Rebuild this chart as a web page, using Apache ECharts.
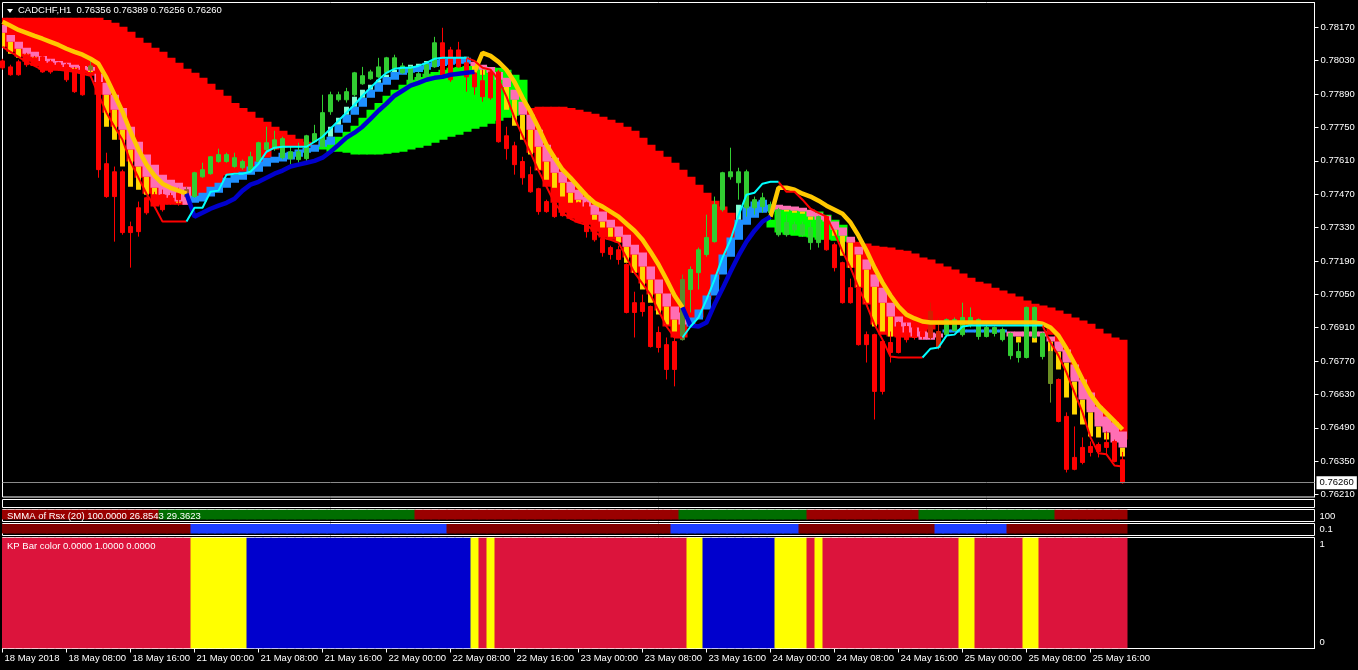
<!DOCTYPE html>
<html>
<head>
<meta charset="utf-8">
<title>CADCHF,H1</title>
<script src="https://cdn.jsdelivr.net/npm/echarts@6.0.0/dist/echarts.min.js"></script>
<style>
html,body{margin:0;padding:0;background:#000;overflow:hidden;}
#chart{width:1358px;height:670px;}
</style>
</head>
<body>
<div id="chart"></div>
<script>
// ================= DATA =================
const symbol = 'CADCHF,H1';
const tickLabels = ['18 May 2018','18 May 08:00','18 May 16:00','21 May 00:00','21 May 08:00','21 May 16:00',
  '22 May 00:00','22 May 08:00','22 May 16:00','23 May 00:00','23 May 08:00','23 May 16:00',
  '24 May 00:00','24 May 08:00','24 May 16:00','25 May 00:00','25 May 08:00','25 May 16:00'];
const priceTicks = [0.76210,0.76350,0.76490,0.76630,0.76770,0.76910,0.77050,0.77190,0.77330,0.77470,0.77610,0.77750,0.77890,0.78030,0.78170];
const smmaLegend = 'SMMA of Rsx (20) 100.0000 26.8543 29.3623';
const kpLegend = 'KP Bar color 0.0000 1.0000 0.0000';

// hourly candles: [open, close, low, high]
const ohlc = [
[0.78029,0.78000,0.77992,0.78038],[0.78004,0.77971,0.77967,0.78013],[0.78025,0.77971,0.77967,0.78034],[0.78055,0.78013,0.78004,0.78063],[0.78042,0.78013,0.78008,0.78050],
[0.78046,0.77983,0.77979,0.78055],[0.78025,0.77983,0.77975,0.78034],[0.78021,0.77992,0.77988,0.78025],[0.78013,0.77950,0.77941,0.78021],[0.77992,0.77900,0.77895,0.78004],
[0.78021,0.77887,0.77883,0.78034],[0.77992,0.78008,0.77979,0.78038],[0.78021,0.77573,0.77539,0.78025],[0.77598,0.77460,0.77455,0.77644],[0.77564,0.77460,0.77271,0.77586],
[0.77564,0.77309,0.77300,0.77573],[0.77334,0.77309,0.77162,0.77355],[0.77413,0.77313,0.77292,0.77439],[0.77455,0.77392,0.77384,0.77460],[0.77468,0.77434,0.77430,0.77480],
[0.77468,0.77405,0.77397,0.77489],[0.77464,0.77439,0.77426,0.77476],[0.77476,0.77447,0.77422,0.77497],[0.77460,0.77489,0.77455,0.77501],[0.77460,0.77560,0.77455,0.77564],
[0.77543,0.77573,0.77539,0.77602],[0.77556,0.77627,0.77552,0.77630],[0.77607,0.77636,0.77602,0.77661],[0.77607,0.77636,0.77602,0.77644],[0.77586,0.77623,0.77581,0.77644],
[0.77581,0.77607,0.77573,0.77615],[0.77569,0.77627,0.77564,0.77648],[0.77607,0.77686,0.77602,0.77690],[0.77657,0.77686,0.77648,0.77753],[0.77661,0.77698,0.77652,0.77736],
[0.77623,0.77703,0.77615,0.77711],[0.77619,0.77648,0.77594,0.77669],[0.77615,0.77648,0.77602,0.77686],[0.77619,0.77715,0.77602,0.77719],[0.77690,0.77724,0.77686,0.77761],
[0.77669,0.77812,0.77665,0.77887],[0.77816,0.77887,0.77803,0.77900],[0.77866,0.77887,0.77858,0.77900],[0.77866,0.77900,0.77854,0.77916],[0.77887,0.77979,0.77879,0.77983],
[0.77933,0.77967,0.77929,0.78004],[0.77954,0.77983,0.77950,0.77992],[0.77962,0.78004,0.77958,0.78042],[0.77979,0.78042,0.77979,0.78046],[0.77996,0.78042,0.77992,0.78055],
[0.77979,0.78008,0.77975,0.78021],[0.77937,0.78004,0.77933,0.78008],[0.77937,0.77975,0.77929,0.77983],[0.77962,0.78013,0.77958,0.78025],[0.78004,0.78105,0.78000,0.78130],
[0.78105,0.77962,0.77958,0.78168],[0.78075,0.77950,0.77941,0.78088],[0.78075,0.78004,0.78000,0.78109],[0.78021,0.77962,0.77900,0.78042],[0.77979,0.77920,0.77887,0.77992],
[0.77946,0.77879,0.77858,0.77992],[0.77983,0.77874,0.77866,0.77992],[0.77983,0.77690,0.77686,0.77992],[0.77715,0.77661,0.77615,0.77753],[0.77673,0.77594,0.77552,0.77690],
[0.77607,0.77539,0.77510,0.77627],[0.77552,0.77480,0.77476,0.77586],[0.77493,0.77397,0.77384,0.77497],[0.77439,0.77397,0.77392,0.77447],[0.77434,0.77376,0.77371,0.77460],
[0.77434,0.77380,0.77376,0.77439],[0.77397,0.77371,0.77363,0.77405],[0.77434,0.77376,0.77371,0.77439],[0.77434,0.77313,0.77288,0.77439],[0.77330,0.77279,0.77271,0.77342],
[0.77284,0.77225,0.77208,0.77292],[0.77246,0.77217,0.77196,0.77254],[0.77237,0.77196,0.77175,0.77254],[0.77175,0.76974,0.76970,0.77180],[0.77015,0.76974,0.76869,0.77061],
[0.77015,0.76978,0.76957,0.77049],[0.76999,0.76831,0.76827,0.77003],[0.76890,0.76827,0.76806,0.76915],[0.76839,0.76735,0.76693,0.76869],[0.76852,0.76735,0.76664,0.76873],
[0.76860,0.77112,0.76856,0.77133],[0.77070,0.77154,0.76974,0.77167],[0.77141,0.77237,0.77070,0.77246],[0.77217,0.77288,0.77208,0.77384],[0.77271,0.77426,0.77267,0.77460],
[0.77405,0.77560,0.77397,0.77564],[0.77543,0.77564,0.77531,0.77665],[0.77518,0.77564,0.77447,0.77581],[0.77413,0.77564,0.77376,0.77573],[0.77413,0.77447,0.77384,0.77460],
[0.77418,0.77455,0.77392,0.77476],[0.77392,0.77426,0.77363,0.77439],[0.77300,0.77405,0.77292,0.77413],[0.77300,0.77351,0.77292,0.77384],[0.77321,0.77342,0.77309,0.77355],
[0.77300,0.77342,0.77292,0.77355],[0.77267,0.77330,0.77237,0.77355],[0.77267,0.77376,0.77246,0.77380],[0.77376,0.77237,0.77233,0.77380],[0.77258,0.77162,0.77146,0.77267],
[0.77183,0.77015,0.77011,0.77187],[0.77078,0.77015,0.77011,0.77116],[0.77078,0.76839,0.76835,0.77082],[0.76881,0.76839,0.76764,0.76894],[0.76881,0.76643,0.76525,0.76885],
[0.76852,0.76643,0.76630,0.76860],[0.76848,0.76806,0.76764,0.76894],[0.76932,0.76806,0.76802,0.76936],[0.76915,0.76860,0.76848,0.76932],[0.76911,0.76869,0.76860,0.76923],
[0.76894,0.76873,0.76860,0.76902],[0.76978,0.76869,0.76860,0.77015],[0.76894,0.76827,0.76819,0.76949],[0.76881,0.76944,0.76873,0.76949],[0.76898,0.76944,0.76894,0.76953],
[0.76881,0.76953,0.76873,0.77015],[0.76923,0.76953,0.76911,0.76995],[0.76873,0.76944,0.76860,0.76949],[0.76873,0.76911,0.76869,0.76923],[0.76886,0.76911,0.76873,0.76915],
[0.76860,0.76902,0.76852,0.76911],[0.76793,0.76886,0.76777,0.76890],[0.76785,0.76810,0.76764,0.76848],[0.76785,0.76995,0.76781,0.76999],[0.76869,0.76995,0.76865,0.76999],
[0.76789,0.76886,0.76777,0.76890],[0.76810,0.76676,0.76596,0.76860],[0.76693,0.76517,0.76513,0.76697],[0.76538,0.76316,0.76303,0.76555],[0.76366,0.76316,0.76312,0.76496],
[0.76408,0.76345,0.76337,0.76450],[0.76412,0.76387,0.76370,0.76433],[0.76420,0.76391,0.76366,0.76429],[0.76429,0.76408,0.76379,0.76475],[0.76433,0.76349,0.76345,0.76441],
[0.76356,0.76260,0.76256,0.76389]
];

// thick moving average (yellow when bearish, blue when bullish)
const maLine = [
0.78193,0.78176,0.78159,0.78147,0.78134,0.78122,0.78109,0.78096,0.78080,0.78067,
0.78055,0.78038,0.78017,0.77958,0.77887,0.77816,0.77732,0.77657,0.77594,0.77548,
0.77514,0.77497,0.77485,0.77472,0.77376,0.77392,0.77409,0.77422,0.77434,0.77451,
0.77485,0.77510,0.77522,0.77539,0.77556,0.77569,0.77586,0.77594,0.77602,0.77610,
0.77623,0.77648,0.77677,0.77707,0.77728,0.77753,0.77786,0.77820,0.77850,0.77883,
0.77904,0.77925,0.77937,0.77950,0.77958,0.77962,0.77971,0.77975,0.77979,0.77983,
0.78063,0.78050,0.78025,0.77992,0.77941,0.77874,0.77816,0.77749,0.77677,0.77623,
0.77573,0.77539,0.77501,0.77464,0.77434,0.77418,0.77397,0.77376,0.77346,0.77317,
0.77279,0.77229,0.77175,0.77112,0.77045,0.76995,0.76919,0.76915,0.76932,0.77007,
0.77074,0.77145,0.77212,0.77271,0.77317,0.77355,0.77376,0.77497,0.77497,0.77489,
0.77472,0.77460,0.77443,0.77422,0.77405,0.77388,0.77351,0.77296,0.77233,0.77162,
0.77099,0.77045,0.76999,0.76965,0.76949,0.76936,0.76932,0.76932,0.76932,0.76932,
0.76932,0.76932,0.76932,0.76932,0.76932,0.76932,0.76932,0.76932,0.76932,0.76932,
0.76927,0.76911,0.76877,0.76822,0.76760,0.76693,0.76630,0.76584,0.76551,0.76517,
0.76483];
const maRuns = [['Y',24],['B',36],['Y',26],['B',11],['Y',44]];

// thin trailing line (red bearish / cyan bullish)
const trail = [
0.78088,0.78067,0.78046,0.78025,0.78008,0.77992,0.77992,0.77992,0.77988,0.77983,
0.77975,0.77967,0.77887,0.77812,0.77753,0.77698,0.77607,0.77539,0.77472,0.77418,
0.77355,0.77355,0.77355,0.77355,0.77413,0.77413,0.77480,0.77485,0.77552,0.77556,
0.77556,0.77564,0.77598,0.77648,0.77665,0.77669,0.77669,0.77669,0.77669,0.77690,
0.77711,0.77745,0.77778,0.77812,0.77845,0.77883,0.77916,0.77950,0.77979,0.77996,
0.78000,0.78000,0.78008,0.78021,0.78038,0.78042,0.78042,0.78042,0.78042,0.78029,
0.78000,0.77992,0.77950,0.77879,0.77791,0.77715,0.77644,0.77569,0.77501,0.77434,
0.77392,0.77367,0.77351,0.77342,0.77313,0.77288,0.77279,0.77267,0.77204,0.77141,
0.77095,0.77049,0.76982,0.76915,0.76869,0.76869,0.76915,0.76953,0.77028,0.77112,
0.77204,0.77279,0.77380,0.77468,0.77476,0.77514,0.77522,0.77522,0.77480,0.77480,
0.77447,0.77409,0.77392,0.77376,0.77309,0.77229,0.77162,0.77078,0.77007,0.76923,
0.76860,0.76789,0.76785,0.76785,0.76785,0.76785,0.76822,0.76827,0.76877,0.76881,
0.76915,0.76919,0.76919,0.76919,0.76919,0.76919,0.76919,0.76919,0.76919,0.76919,
0.76919,0.76848,0.76793,0.76722,0.76638,0.76555,0.76450,0.76383,0.76379,0.76332,
0.76328];
const trailRuns = [['R',24],['C',35],['R',27],['C',12],['R',18],['C',15],['R',10]];

// cloud: slow and fast edge (red where slow > fast, lime where fast > slow)
const cloudSlow = [
0.78210,0.78210,0.78210,0.78210,0.78210,0.78210,0.78210,0.78210,0.78210,0.78210,
0.78210,0.78210,0.78210,0.78201,0.78189,0.78172,0.78151,0.78126,0.78105,0.78084,
0.78067,0.78042,0.78021,0.77996,0.77979,0.77958,0.77933,0.77908,0.77883,0.77853,
0.77832,0.77816,0.77791,0.77774,0.77753,0.77736,0.77719,0.77703,0.77690,0.77677,
0.77657,0.77648,0.77648,0.77644,0.77636,0.77636,0.77636,0.77636,0.77640,0.77644,
0.77648,0.77657,0.77665,0.77673,0.77686,0.77698,0.77711,0.77719,0.77732,0.77745,
0.77753,0.77765,0.77778,0.77791,0.77799,0.77807,0.77832,0.77837,0.77837,0.77837,
0.77837,0.77832,0.77824,0.77816,0.77807,0.77795,0.77782,0.77770,0.77753,0.77736,
0.77707,0.77677,0.77652,0.77627,0.77602,0.77573,0.77543,0.77510,0.77476,0.77443,
0.77418,0.77392,0.77363,null,null,null,0.77330,0.77309,0.77300,0.77296,
0.77292,0.77288,0.77279,0.77279,0.77275,0.77271,0.77279,0.77271,0.77263,0.77254,
0.77250,0.77246,0.77237,0.77233,0.77221,0.77204,0.77196,0.77179,0.77167,0.77154,
0.77137,0.77120,0.77103,0.77095,0.77078,0.77066,0.77053,0.77041,0.77024,0.77011,
0.77003,0.76995,0.76982,0.76969,0.76953,0.76940,0.76927,0.76906,0.76886,0.76869,
0.76860];
const cloudFast = [
0.78088,0.78067,0.78046,0.78025,0.78008,0.77992,0.77992,0.77992,0.77988,0.77983,
0.77975,0.77967,0.77887,0.77812,0.77753,0.77698,0.77607,0.77539,0.77472,0.77418,
0.77426,0.77426,0.77426,0.77426,0.77447,0.77464,0.77489,0.77506,0.77548,0.77556,
0.77564,0.77573,0.77594,0.77623,0.77657,0.77665,0.77669,0.77669,0.77669,0.77673,
0.77690,0.77698,0.77711,0.77732,0.77757,0.77791,0.77824,0.77853,0.77883,0.77908,
0.77929,0.77950,0.77962,0.77975,0.77983,0.77992,0.78000,0.78004,0.78008,0.78008,
0.78008,0.78004,0.78000,0.77992,0.77971,0.77950,0.77644,0.77569,0.77501,0.77434,
0.77392,0.77367,0.77351,0.77342,0.77313,0.77288,0.77279,0.77267,0.77204,0.77141,
0.77095,0.77049,0.76982,0.76915,0.76869,0.76869,0.76915,0.76953,0.77028,0.77112,
0.77204,0.77279,0.77355,null,null,null,0.77363,0.77405,0.77409,0.77405,
0.77405,0.77401,0.77397,0.77384,0.77363,0.77342,0.77162,0.77078,0.77007,0.76923,
0.76881,0.76873,0.76869,0.76869,0.76869,0.76877,0.76902,0.76923,0.76923,0.76923,
0.76923,0.76923,0.76923,0.76923,0.76923,0.76923,0.76923,0.76923,0.76923,0.76923,
0.76923,0.76881,0.76839,0.76777,0.76701,0.76630,0.76567,0.76525,0.76492,0.76462,
0.76441];

// smoothed bar overlay: wide block base->mid, narrow bar mid->tip
const haBase = [
0.78180,0.78138,0.78109,0.78084,0.78067,0.78050,0.78038,0.78029,0.78021,0.78013,
0.78008,0.78004,0.77975,0.77937,0.77887,0.77832,0.77753,0.77690,0.77636,0.77594,
0.77552,0.77531,0.77518,0.77501,0.77434,0.77439,0.77460,0.77476,0.77497,0.77518,
0.77531,0.77552,0.77564,0.77586,0.77602,0.77607,0.77615,0.77627,0.77644,0.77648,
0.77669,0.77677,0.77728,0.77770,0.77803,0.77837,0.77874,0.77900,0.77929,0.77950,
0.77971,0.77979,0.77983,0.77992,0.78004,0.78008,0.78013,0.78017,0.78017,0.78025,
0.78013,0.78004,0.77983,0.77958,0.77908,0.77858,0.77803,0.77740,0.77677,0.77623,
0.77564,0.77522,0.77489,0.77460,0.77426,0.77397,0.77363,0.77334,0.77300,0.77258,
0.77225,0.77167,0.77112,0.77053,0.76999,0.76974,0.76915,0.76944,0.76986,0.77045,
0.77133,0.77208,0.77279,0.77342,0.77371,0.77392,0.77397,0.77426,0.77422,0.77418,
0.77413,0.77405,0.77392,0.77380,0.77355,0.77330,0.77292,0.77250,0.77196,0.77133,
0.77078,0.77015,0.76957,0.76932,0.76911,0.76894,0.76890,0.76886,0.76890,0.76890,
0.76890,0.76890,0.76890,0.76890,0.76890,0.76890,0.76894,0.76894,0.76894,0.76894,
0.76894,0.76873,0.76852,0.76819,0.76756,0.76693,0.76638,0.76580,0.76538,0.76513,
0.76475];
const haMid = [
0.78147,0.78109,0.78080,0.78059,0.78046,0.78029,0.78021,0.78013,0.78004,0.78000,
0.77992,0.77988,0.77941,0.77887,0.77824,0.77740,0.77657,0.77586,0.77543,0.77497,
0.77468,0.77455,0.77439,0.77426,0.77464,0.77476,0.77501,0.77518,0.77539,0.77552,
0.77564,0.77586,0.77607,0.77623,0.77627,0.77644,0.77648,0.77657,0.77665,0.77677,
0.77698,0.77711,0.77761,0.77803,0.77837,0.77874,0.77908,0.77937,0.77962,0.77983,
0.78000,0.78004,0.78008,0.78021,0.78034,0.78038,0.78042,0.78042,0.78042,0.78008,
0.77992,0.77979,0.77950,0.77920,0.77866,0.77803,0.77740,0.77669,0.77607,0.77560,
0.77518,0.77476,0.77447,0.77418,0.77384,0.77355,0.77330,0.77292,0.77250,0.77217,
0.77167,0.77112,0.77053,0.76999,0.76944,0.76923,0.76953,0.76986,0.77045,0.77133,
0.77217,0.77288,0.77363,0.77418,0.77439,0.77447,0.77426,0.77405,0.77405,0.77401,
0.77397,0.77376,0.77363,0.77355,0.77321,0.77296,0.77267,0.77217,0.77154,0.77082,
0.77015,0.76957,0.76915,0.76890,0.76873,0.76860,0.76860,0.76869,0.76902,0.76902,
0.76902,0.76902,0.76902,0.76902,0.76902,0.76902,0.76873,0.76873,0.76873,0.76873,
0.76873,0.76852,0.76810,0.76764,0.76684,0.76609,0.76555,0.76496,0.76471,0.76429,
0.76408];
const haTip = [
0.78088,0.78059,0.78042,0.78034,0.78025,0.78013,0.78008,0.78004,0.78000,0.77996,
0.77988,0.77983,0.77916,0.77753,0.77698,0.77586,0.77501,0.77489,0.77468,0.77460,
0.77447,0.77443,0.77434,0.77426,0.77464,0.77476,0.77501,0.77518,0.77539,0.77552,
0.77564,0.77586,0.77607,0.77623,0.77627,0.77644,0.77648,0.77657,0.77665,0.77677,
0.77707,0.77753,0.77791,0.77837,0.77879,0.77908,0.77929,0.77950,0.77971,0.77992,
0.78008,0.78013,0.78017,0.78029,0.78042,0.78046,0.78046,0.78046,0.78046,0.77992,
0.77971,0.77941,0.77887,0.77824,0.77757,0.77698,0.77636,0.77573,0.77531,0.77497,
0.77460,0.77434,0.77418,0.77392,0.77363,0.77330,0.77292,0.77267,0.77183,0.77141,
0.77070,0.77015,0.76965,0.76923,0.76894,0.76902,0.76953,0.76986,0.77045,0.77133,
0.77217,0.77288,0.77426,0.77447,0.77439,0.77447,0.77426,0.77397,0.77397,0.77392,
0.77388,0.77363,0.77346,0.77330,0.77296,0.77212,0.77162,0.77082,0.77015,0.76915,
0.76894,0.76873,0.76869,0.76877,0.76869,0.76860,0.76860,0.76869,0.76902,0.76902,
0.76902,0.76902,0.76902,0.76902,0.76902,0.76902,0.76848,0.76848,0.76848,0.76848,
0.76848,0.76806,0.76735,0.76617,0.76546,0.76504,0.76454,0.76450,0.76441,0.76412,
0.76370];

// indicator window states, as runs of bars
const smmaRuns = [['D',20],['U',32],['D',33],['U',16],['D',14],['U',17],['D',9]];
const rsxRuns  = [['D',24],['U',32],['D',28],['U',16],['D',17],['U',9],['D',15]];
const kpRuns   = [['R',24],['Y',7],['B',28],['Y',1],['R',1],['Y',1],['R',24],['Y',2],['B',9],['Y',4],['R',1],['Y',1],['R',17],['Y',2],['R',6],['Y',2],['R',11]];

// ================= STYLE =================
const FONT = "'Liberation Sans', Arial, sans-serif";
const FS = 9.5;
const C = {
  frame:'#ffffff', text:'#ffffff',
  bull:'#32CD32', bear:'#FF0000',
  cloudBear:'#FF0000', cloudBull:'#00FF00',
  haBearWide:'#FF6EB4', haBearNarrow:'#FFD700',
  haBullWide:'#1E90FF', haBullNarrow:'#7FFFD4',
  ma:{Y:'#FFC800', B:'#0000CD'},
  trail:{R:'#FF0000', C:'#00FFFF'},
  price:'#8a8a8a',
  smma:{U:'#006E00', D:'#9A0000'},
  rsx:{U:'#1C3CFF', D:'#800000'},
  kp:{R:'#DC143C', Y:'#FFFF00', B:'#0000CD'}
};
const candleTint = {11:'#7E7E2A', 23:'#A0522D', 85:'#5C8A2E', 116:'#D22000', 117:'#D22000', 131:'#6B8E23'};
const futureSlots = 24;

// ================= BUILD =================
function expand(runs){ const out=[]; runs.forEach(([s,n])=>{ for(let k=0;k<n;k++) out.push(s); }); return out; }
const maState = expand(maRuns), trailState = expand(trailRuns);
const smmaState = expand(smmaRuns), rsxState = expand(rsxRuns), kpState = expand(kpRuns);

const nBars = ohlc.length;
const categories = [];
for (let i = 0; i < nBars + futureSlots; i++) {
  categories.push(i % 8 === 0 && i / 8 < tickLabels.length ? tickLabels[i / 8] : '');
}
const tickShown = (idx) => idx % 8 === 0 && idx / 8 < tickLabels.length;

function splitByState(values, states, key){
  return values.map((v, i) => (states[i] === key || states[i + 1] === key) ? v : null);
}

const cloudData = [];
for (let i = 0; i < nBars; i++) if (cloudSlow[i] != null && cloudFast[i] != null) cloudData.push([i, cloudSlow[i], cloudFast[i]]);
const haData = haBase.map((b, i) => [i, b, haMid[i], haTip[i]]);
const candleData = ohlc.map((d, i) => candleTint[i]
  ? {value:d, itemStyle:{color:candleTint[i], color0:candleTint[i], borderColor:candleTint[i], borderColor0:candleTint[i]}}
  : d);
const last = ohlc[nBars - 1];
const f5 = v => v.toFixed(5);
const header = symbol + '  ' + f5(last[0]) + ' ' + f5(last[3]) + ' ' + f5(last[2]) + ' ' + f5(last[1]);

function cloudItem(params, api){
  const x = api.value(0), s = api.value(1), f = api.value(2);
  const top = api.coord([x, Math.max(s, f)]);
  const bot = api.coord([x, Math.min(s, f)]);
  const w = api.size([1, 0])[0];
  return {type:'rect', shape:{x:top[0] - w/2, y:top[1], width:w + 1, height:Math.max(bot[1] - top[1], 0.5)},
          style:{fill: s > f ? C.cloudBear : C.cloudBull}};
}
function haItem(params, api){
  const x = api.value(0), b = api.value(1), m = api.value(2), t = api.value(3);
  const bear = b >= m;
  const w = api.size([1, 0])[0];
  const pb = api.coord([x, b]), pm = api.coord([x, m]), pt = api.coord([x, t]);
  const nw = w * 0.62;
  return {type:'group', children:[
    {type:'rect', shape:{x:pm[0] - nw/2, y:Math.min(pm[1], pt[1]), width:nw, height:Math.abs(pt[1] - pm[1])},
     style:{fill: bear ? C.haBearNarrow : C.haBullNarrow}},
    {type:'rect', shape:{x:pb[0] - w/2, y:Math.min(pb[1], pm[1]), width:w + 0.5, height:Math.max(Math.abs(pb[1] - pm[1]), 1)},
     style:{fill: bear ? C.haBearWide : C.haBullWide}}
  ]};
}
// panel state strips: full-band rectangles clipped to the grid
function stripItem(colors){
  return function(params, api){
    const x = api.value(0), v0 = api.value(1), v1 = api.value(2);
    const a = api.coord([x, v0]), b = api.coord([x, v1]);
    const w = api.size([1, 0])[0];
    return {type:'rect', shape:{x:a[0] - w/2, y:Math.min(a[1], b[1]), width:w + 1, height:Math.abs(b[1] - a[1])},
            style:{fill: colors[api.value(3)]}};
  };
}
const stateCodes = {D:0, U:1, R:0, Y:1, B:2};
const smmaColors = [C.smma.D, C.smma.U], rsxColors = [C.rsx.D, C.rsx.U], kpColors = [C.kp.R, C.kp.Y, C.kp.B];

const L = 2.5, W = 1312;
const gridBase = {left:L, width:W, show:true, borderColor:C.frame, borderWidth:1, backgroundColor:'transparent', containLabel:false, outerBoundsMode:'none'};
const txt = (extra) => Object.assign({color:C.text, fontFamily:FONT, fontSize:FS, fontWeight:'normal'}, extra || {});

const option = {
  backgroundColor:'#000000',
  animation:false,
  title:[
    {text:header, left:18, top:5, padding:0, textStyle:txt()},
    {text:smmaLegend, left:7, top:511, padding:0, textStyle:txt()},
    {text:kpLegend, left:7, top:541, padding:0, textStyle:txt()}
  ],
  graphic:[{type:'polygon', shape:{points:[[7,9],[13,9],[10,13]]}, style:{fill:'#ffffff'}}],
  grid:[
    Object.assign({top:2.5, height:494.5}, gridBase),
    Object.assign({top:499.5, height:8}, gridBase),
    Object.assign({top:509.5, height:12}, gridBase),
    Object.assign({top:523.5, height:12}, gridBase),
    Object.assign({top:537.5, height:111}, gridBase)
  ],
  xAxis:[0,1,2,3,4].map(g => ({
    type:'category', gridIndex:g, data:categories, boundaryGap:false,
    axisLine:{show:g === 4, lineStyle:{color:C.frame}},
    axisTick:{show:g === 4, length:4, interval:tickShown, lineStyle:{color:C.frame}},
    axisLabel:{show:g === 4, interval:tickShown, align:'left', margin:5, padding:[0,0,0,2], color:C.text, fontFamily:FONT, fontSize:FS},
    splitLine:{show:false}
  })),
  yAxis:[
    {type:'value', gridIndex:0, position:'right', min:0.76200, max:0.78274,
     axisLine:{show:true, lineStyle:{color:C.frame}},
     axisTick:{show:true, length:4, customValues:priceTicks, lineStyle:{color:C.frame}},
     axisLabel:{customValues:priceTicks, formatter:f5, margin:6, color:C.text, fontFamily:FONT, fontSize:FS},
     splitLine:{show:false}},
    {type:'value', gridIndex:1, show:false, min:0, max:1},
    {type:'value', gridIndex:2, show:false, position:'left', min:0, max:1.2, inverse:true},
    {type:'value', gridIndex:2, position:'right', min:-323.5, max:382.4, inverse:true,
     axisLine:{show:false}, axisTick:{show:false}, splitLine:{show:false},
     axisLabel:{customValues:[0,100], margin:5, color:C.text, fontFamily:FONT, fontSize:FS}},
    {type:'value', gridIndex:3, show:false, position:'left', min:-0.05, max:1.2, inverse:true},
    {type:'value', gridIndex:3, position:'right', min:-0.2625, max:0.4875, inverse:true,
     axisLine:{show:false}, axisTick:{show:false}, splitLine:{show:false},
     axisLabel:{customValues:[0,0.1], margin:5, color:C.text, fontFamily:FONT, fontSize:FS}},
    {type:'value', gridIndex:4, show:false, position:'left', min:0, max:1},
    {type:'value', gridIndex:4, position:'right', min:-0.0588, max:1.0659,
     axisLine:{show:false}, axisTick:{show:false}, splitLine:{show:false},
     axisLabel:{customValues:[0,1], margin:5, color:C.text, fontFamily:FONT, fontSize:FS}}
  ],
  series:[
    {type:'custom', name:'cloud', xAxisIndex:0, yAxisIndex:0, renderItem:cloudItem, data:cloudData,
     encode:{x:0, y:[1,2]}, clip:true, silent:true, z:1},
    {type:'custom', name:'bars', xAxisIndex:0, yAxisIndex:0, renderItem:haItem, data:haData,
     encode:{x:0, y:[1,2,3]}, clip:true, silent:true, z:2},
    {type:'candlestick', name:symbol, xAxisIndex:0, yAxisIndex:0, data:candleData, barWidth:4, z:3, silent:true, clip:true,
     itemStyle:{color:C.bull, color0:C.bear, borderColor:C.bull, borderColor0:C.bear, borderWidth:1}},
    {type:'line', name:'ma-bear', xAxisIndex:0, yAxisIndex:0, data:splitByState(maLine, maState, 'Y'),
     symbol:'none', connectNulls:false, lineStyle:{color:C.ma.Y, width:4.5}, z:4, silent:true},
    {type:'line', name:'ma-bull', xAxisIndex:0, yAxisIndex:0, data:splitByState(maLine, maState, 'B'),
     symbol:'none', connectNulls:false, lineStyle:{color:C.ma.B, width:4.5}, z:4, silent:true},
    {type:'line', name:'trail-bear', xAxisIndex:0, yAxisIndex:0, data:splitByState(trail, trailState, 'R'),
     symbol:'none', connectNulls:false, lineStyle:{color:C.trail.R, width:2}, z:5, silent:true},
    {type:'line', name:'trail-bull', xAxisIndex:0, yAxisIndex:0, data:splitByState(trail, trailState, 'C'),
     symbol:'none', connectNulls:false, lineStyle:{color:C.trail.C, width:2}, z:5, silent:true},
    {type:'line', name:'last-price', xAxisIndex:0, yAxisIndex:0, data:[], symbol:'none', z:2, silent:true,
     lineStyle:{color:C.price, width:1},
     markLine:{symbol:['none','none'], silent:true, animation:false, precision:5,
       lineStyle:{color:C.price, width:1, type:'solid'},
       label:{show:true, position:'end', formatter:() => f5(last[1]), color:'#000000', backgroundColor:'#ffffff',
              padding:[2,3,1,3], distance:2, fontFamily:FONT, fontSize:FS},
       data:[{yAxis:last[1]}]}},
    {type:'custom', name:'smma', xAxisIndex:2, yAxisIndex:2, renderItem:stripItem(smmaColors), clip:true, silent:true,
     encode:{x:0, y:[1,2]}, data:smmaState.map((s, i) => [i, 0, 1, stateCodes[s]])},
    {type:'custom', name:'rsx', xAxisIndex:3, yAxisIndex:4, renderItem:stripItem(rsxColors), clip:true, silent:true,
     encode:{x:0, y:[1,2]}, data:rsxState.map((s, i) => [i, 0, 1, stateCodes[s]])},
    {type:'custom', name:'kp', xAxisIndex:4, yAxisIndex:6, renderItem:stripItem(kpColors), clip:true, silent:true,
     encode:{x:0, y:[1,2]}, data:kpState.map((s, i) => [i, 0, 1, stateCodes[s]])}
  ]
};

const chart = echarts.init(document.getElementById('chart'), null, {renderer:'canvas'});
chart.setOption(option);
</script>
</body>
</html>
